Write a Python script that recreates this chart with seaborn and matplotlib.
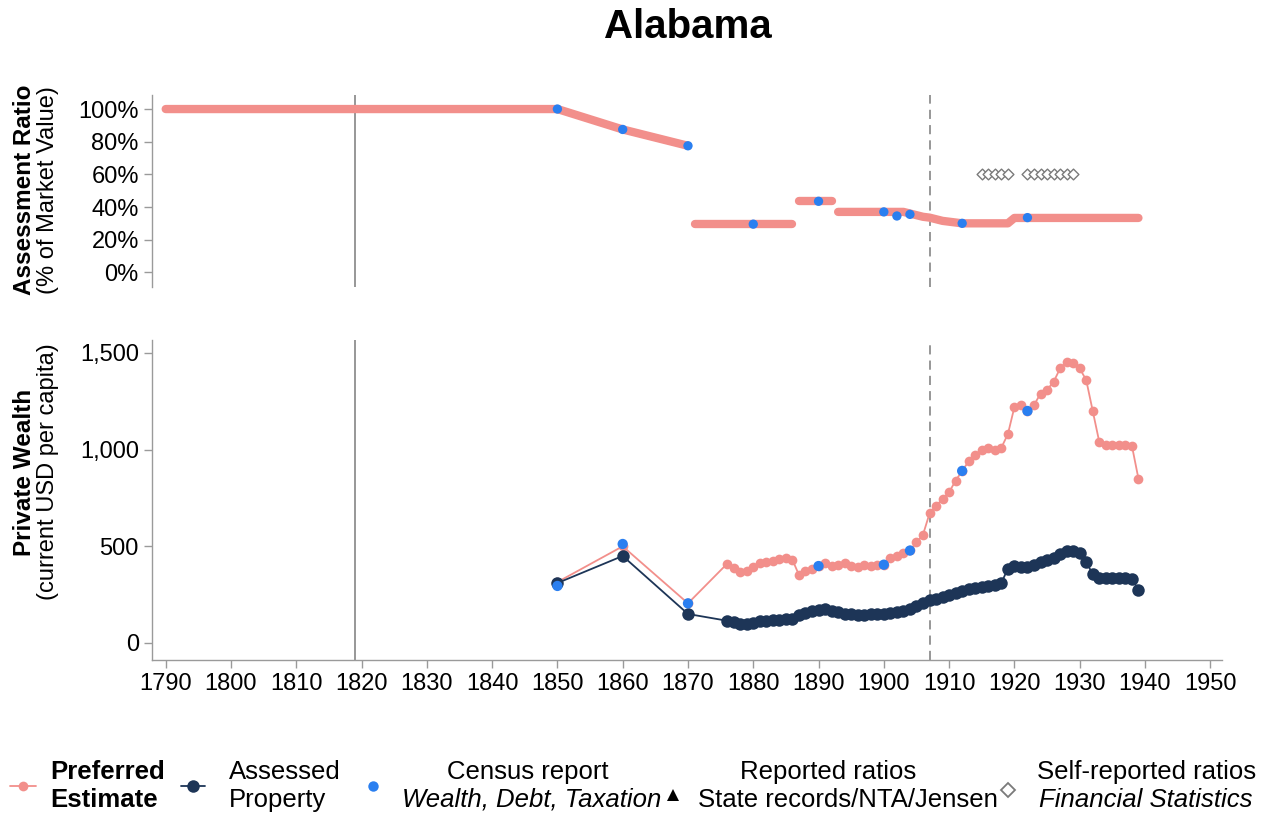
import numpy as np
import pandas as pd
import matplotlib
matplotlib.use("Agg")
import matplotlib.pyplot as plt
import seaborn as sns

# ---------------- data ----------------
# Top panel: preferred assessment ratio (%), split into segments
ratio_a_years = [1790, 1800, 1810, 1820, 1830, 1840, 1850, 1860, 1870]
ratio_a_vals = [100, 100, 100, 100, 100, 100, 100, 87.5, 77.5]
ratio_b_years = [1871, 1886]
ratio_b_vals = [29.5, 29.5]
ratio_c_years = [1887, 1892]
ratio_c_vals = [43.5, 43.5]
ratio_d_years = [1893, 1903, 1904, 1905, 1906, 1907, 1908, 1909, 1910, 1911,
                 1912, 1919, 1920, 1939]
ratio_d_vals = [37, 37, 36, 35, 34, 33.5, 32.5, 31.5, 31, 30.5,
                30, 30, 33.3, 33.3]

census_ratio_years = [1850, 1860, 1870, 1880, 1890, 1900, 1902, 1904, 1912, 1922]
census_ratio_vals = [100, 87.5, 77.5, 29.5, 43.5, 37, 34.5, 35.5, 30, 33.5]

self_rep_years = [1915, 1916, 1917, 1918, 1919,
                  1922, 1923, 1924, 1925, 1926, 1927, 1928, 1929]
self_rep_vals = [60, 60, 60, 60, 60,
                 60, 60, 60, 60, 60, 60, 60, 60]

# Bottom panel: private wealth per capita (current USD)
early_years = [1850, 1860, 1870]
pref_early = [315, 500, 205]
assessed_early = [310, 450, 150]
annual_years = list(range(1876, 1940))
pref_annual = [410, 390, 365, 372, 395, 412, 420, 425, 435, 438,   # 1876-1885
               430, 352, 370, 385, 398, 412, 400, 404, 412, 400,   # 1886-1895
               395, 404, 398, 402, 405, 440, 452, 465, 480, 520,   # 1896-1905
               560, 670, 710, 745, 780, 840, 890, 940, 970, 1000,  # 1906-1915
               1010, 1000, 1010, 1080, 1220, 1230, 1200, 1230, 1290, 1310,  # 1916-1925
               1350, 1420, 1455, 1450, 1420, 1360, 1200, 1040, 1025, 1025,  # 1926-1935
               1025, 1025, 1020, 850]                               # 1936-1939
assessed_annual = [115, 108, 100, 96, 105, 112, 115, 118, 120, 122,  # 1876-1885
                   126, 145, 155, 165, 172, 178, 168, 160, 152, 148,  # 1886-1895
                   146, 146, 148, 150, 152, 157, 162, 168, 176, 190,  # 1896-1905
                   208, 222, 230, 238, 248, 258, 268, 278, 286, 292,  # 1906-1915
                   297, 300, 310, 385, 400, 395, 395, 405, 418, 430,  # 1916-1925
                   440, 458, 475, 478, 465, 420, 355, 338, 335, 335,  # 1926-1935
                   335, 335, 332, 275]                                # 1936-1939
census_wealth_years = [1850, 1860, 1870, 1890, 1900, 1904, 1912, 1922]
census_wealth_vals = [295, 512, 205, 398, 405, 478, 890, 1200]

statehood_year = 1819
break_year = 1907
x_ticks = list(range(1790, 1951, 10))
ratio_ticks = [0, 20, 40, 60, 80, 100]
wealth_ticks = [0, 500, 1000, 1500]

# ---------------- style ----------------
sns.set_style("ticks")
plt.rcParams['font.family'] = ['Liberation Sans', 'DejaVu Sans']
plt.rcParams['text.color'] = 'black'

PINK = '#f28f8b'
DARK = '#1d3557'
BLUE = '#2a7ff0'
GREY = '#7a7a7a'

W, H = 1277, 817
fig = plt.figure(figsize=(W / 100, H / 100), dpi=100)

def fx(px):
    return px / W

def fy(py):
    return 1 - py / H

ax_top = fig.add_axes([fx(152), fy(287), fx(1222) - fx(152), fy(95) - fy(287)])
ax_bot = fig.add_axes([fx(152), fy(660), fx(1222) - fx(152), fy(340) - fy(660)])

xlim = (1787.9, 1951.8)

# ---- top panel ----
ratio_df = pd.concat([
    pd.DataFrame({"year": ratio_a_years, "ratio": ratio_a_vals, "seg": "a"}),
    pd.DataFrame({"year": ratio_b_years, "ratio": ratio_b_vals, "seg": "b"}),
    pd.DataFrame({"year": ratio_c_years, "ratio": ratio_c_vals, "seg": "c"}),
    pd.DataFrame({"year": ratio_d_years, "ratio": ratio_d_vals, "seg": "d"}),
])
sns.lineplot(data=ratio_df, x="year", y="ratio", units="seg", estimator=None,
             color=PINK, lw=6, solid_capstyle='round', ax=ax_top, legend=False,
             zorder=2)
sns.scatterplot(x=census_ratio_years, y=census_ratio_vals, color=BLUE, s=45,
                edgecolor='none', ax=ax_top, zorder=4)
sns.scatterplot(x=self_rep_years, y=self_rep_vals, marker='D', s=30,
                facecolor='white', edgecolor=GREY, linewidth=1.0, ax=ax_top, zorder=4)

ax_top.set_xlim(*xlim)
ax_top.set_ylim(-9, 108.6)
ax_top.set_yticks(ratio_ticks)
ax_top.set_yticklabels([f"{t}%" for t in ratio_ticks])
ax_top.set_xticks([])
ax_top.set_xlabel("")
ax_top.set_ylabel("")
for s in ['top', 'right', 'bottom']:
    ax_top.spines[s].set_visible(False)

# ---- bottom panel ----
pref_df = pd.DataFrame({"year": early_years + annual_years,
                        "wealth": pref_early + pref_annual})
ass_df = pd.DataFrame({"year": early_years + annual_years,
                       "wealth": assessed_early + assessed_annual})
sns.lineplot(data=pref_df, x="year", y="wealth", color=PINK, lw=1.3,
             marker='o', markersize=7, markeredgewidth=0, ax=ax_bot, zorder=3)
sns.lineplot(data=ass_df, x="year", y="wealth", color=DARK, lw=1.3,
             marker='o', markersize=9, markeredgewidth=0, ax=ax_bot, zorder=3)
sns.scatterplot(x=census_wealth_years, y=census_wealth_vals, color=BLUE, s=55,
                edgecolor='none', ax=ax_bot, zorder=5)

ax_bot.set_xlim(*xlim)
ax_bot.set_ylim(-88, 1567)
ax_bot.set_xticks(x_ticks)
ax_bot.set_yticks(wealth_ticks)
ax_bot.set_yticklabels([f"{t:,}" for t in wealth_ticks])
ax_bot.set_xlabel("")
ax_bot.set_ylabel("")
sns.despine(ax=ax_bot)

for ax in (ax_top, ax_bot):
    ax.axvline(statehood_year, color=GREY, lw=1.1, zorder=1)
    ax.axvline(break_year, color=GREY, lw=1.1, ls=(0, (6, 4)), zorder=1)
    for s in ['left', 'bottom']:
        ax.spines[s].set_color('#9a9a9a')
        ax.spines[s].set_linewidth(1.0)
    ax.tick_params(axis='both', colors='#9a9a9a', labelcolor='black',
                   labelsize=17, length=6, width=1.0)
    ax.patch.set_alpha(0)

# ---- titles / labels ----
fig.text(fx(688), fy(27), "Alabama", ha='center', va='center',
         fontsize=29, fontweight='bold', color='black')
fig.text(fx(25), fy(190), "Assessment Ratio", rotation=90, ha='center',
         va='center', fontsize=17.5, fontweight='bold')
fig.text(fx(48), fy(190), "(% of Market Value)", rotation=90, ha='center',
         va='center', fontsize=17)
fig.text(fx(25), fy(472), "Private Wealth", rotation=90, ha='center',
         va='center', fontsize=17.5, fontweight='bold')
fig.text(fx(48), fy(472), "(current USD per capita)", rotation=90, ha='center',
         va='center', fontsize=17)

# ---- legend ----
leg = fig.add_axes([0, 0, 1, 1])
leg.set_xlim(0, W)
leg.set_ylim(H, 0)
leg.axis('off')
leg.patch.set_alpha(0)
ly1, ly2, lym = 772, 800, 786
fs = 18.5
leg.plot([10, 36], [lym, lym], color=PINK, lw=1.3)
leg.plot([23], [lym], 'o', color=PINK, ms=7, mew=0)
leg.text(50, ly1, "Preferred", fontsize=fs, fontweight='bold', va='center', ha='left')
leg.text(50, ly2, "Estimate", fontsize=fs, fontweight='bold', va='center', ha='left')
leg.plot([181, 205], [lym, lym], color=DARK, lw=1.3)
leg.plot([193], [lym], 'o', color=DARK, ms=9, mew=0)
leg.text(229, ly1, "Assessed", fontsize=fs, va='center', ha='left')
leg.text(229, ly2, "Property", fontsize=fs, va='center', ha='left')
leg.plot([373], [lym], 'o', color=BLUE, ms=7.5, mew=0)
leg.text(528, ly1, "Census report", fontsize=fs, va='center', ha='center')
leg.text(532, ly2, "Wealth, Debt, Taxation", fontsize=fs, style='italic',
         va='center', ha='center')
leg.plot([673], [795], '^', color='black', ms=8.5, mew=0)
leg.text(828, ly1, "Reported ratios", fontsize=fs, va='center', ha='center')
leg.text(848, ly2, "State records/NTA/Jensen", fontsize=fs, va='center', ha='center')
leg.plot([1008], [790], 'D', mfc='white', mec=GREY, ms=7, mew=1.3)
leg.text(1147, ly1, "Self-reported ratios", fontsize=fs, va='center', ha='center')
leg.text(1146, ly2, "Financial Statistics", fontsize=fs, style='italic',
         va='center', ha='center')

fig.savefig("out.png", dpi=100)
